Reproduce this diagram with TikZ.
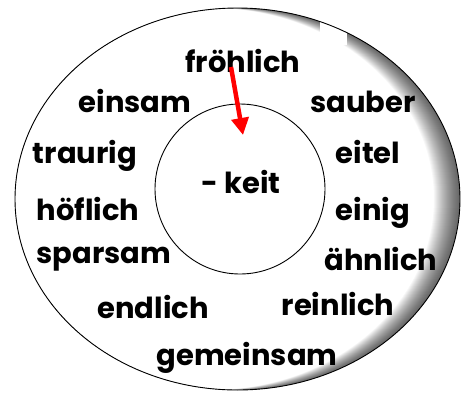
\documentclass[tikz,border=0pt]{standalone}
\usepackage{fontspec}
\setmainfont{Poppins}
\usetikzlibrary{arrows.meta,shapes.geometric}
\begin{document}
\begin{tikzpicture}[x=1pt,y=-1pt,
  word/.style={font=\fontsize{29}{29}\selectfont\bfseries, anchor=base, inner sep=0pt},
  redarrow/.style={draw=red, line width=4.5pt, -{Triangle[length=17pt,width=17pt]}}]
\useasboundingbox (0,0) rectangle (463,392);
\def\ocx{237.5}\def\ocy{199}
\fill[white] (\ocx,\ocy) ellipse [x radius=222.5, y radius=191];
\begin{scope}
  \clip (\ocx,\ocy) ellipse [x radius=222.5, y radius=191];
  \foreach \d in {1,...,26} {
    \fill[black, opacity=0.032, even odd rule]
      (\ocx,\ocy) ellipse [x radius=222.5, y radius=191]
      (\ocx-\d,\ocy) ellipse [x radius=222.5, y radius=191];
  }
  \fill[white] (320,21) rectangle (347,45);
\end{scope}
\node[draw, line width=0.9pt, ellipse, minimum width=445pt, minimum height=382pt, inner sep=0pt] (outer) at (\ocx,\ocy) {};
\node[draw, line width=0.9pt, circle, minimum size=170pt, inner sep=0pt] (inner) at (240,189) {};
\node[word] (keit) at (241,193) {- keit};
\node[word] (froh) at (243,72) {fröhlich};
\node[word] (einsam) at (135,112) {einsam};
\node[word] (sauber) at (363,112) {sauber};
\node[word] (traurig) at (85,163) {traurig};
\node[word] (eitel) at (368,163) {eitel};
\node[word] (hoflich) at (88,220) {höflich};
\node[word] (einig) at (373,220) {einig};
\node[word] (sparsam) at (104,263) {sparsam};
\node[word] (ahnlich) at (381,270) {ähnlich};
\node[word] (endlich) at (153,318) {endlich};
\node[word] (reinlich) at (338,315) {reinlich};
\node[word] (gemeinsam) at (247,365) {gemeinsam};
\coordinate (astart) at (231,67);
\coordinate (atip) at (243,135);
\draw[redarrow] (astart) -- (atip);
\end{tikzpicture}
\end{document}
